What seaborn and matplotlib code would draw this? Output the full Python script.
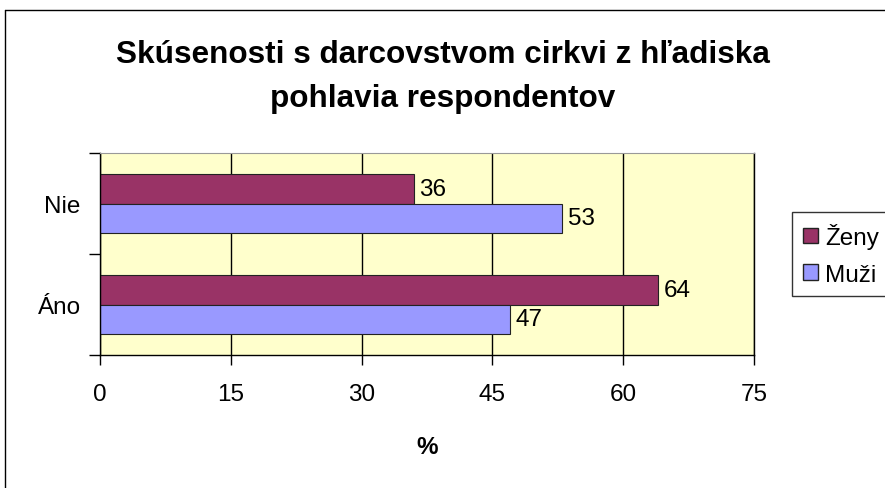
import pandas as pd
import matplotlib.pyplot as plt
import seaborn as sns
from matplotlib.lines import Line2D
from matplotlib.patches import Patch

# data
answers = ['Nie', 'Áno']
genders = ['Ženy', 'Muži']
zeny = [36, 64]
muzi = [53, 47]
x_ticks = [0, 15, 30, 45, 60, 75]

COLORS = {'Ženy': '#993366', 'Muži': '#9999FF'}

df = pd.DataFrame({
    'odpoved': answers * 2,
    'pohlavie': ['Ženy'] * len(answers) + ['Muži'] * len(answers),
    'hodnota': zeny + muzi,
})

sns.set_style('white')
plt.rcParams['font.family'] = ['Liberation Sans', 'DejaVu Sans']
plt.rcParams['text.color'] = 'black'
plt.rcParams['xtick.color'] = 'black'
plt.rcParams['ytick.color'] = 'black'
plt.rcParams['axes.labelcolor'] = 'black'

fig = plt.figure(figsize=(8.85, 4.89), dpi=100)
ax = fig.add_axes([100 / 885, 1 - 356 / 489, 654 / 885, 202 / 489])

sns.barplot(data=df, x='hodnota', y='odpoved', hue='pohlavie',
            order=answers, hue_order=genders, palette=COLORS, saturation=1,
            orient='h', width=0.58, edgecolor='#222222', linewidth=0.8,
            legend=False, ax=ax)

for cont in ax.containers:
    ax.bar_label(cont, padding=4, fontsize=17.5)

ax.set_facecolor('#FFFFCC')
ax.set_xlim(0, 75)
ax.set_xticks(x_ticks)
ax.set_ylim(1.5, -0.5)
ax.set_yticks([-0.5, 0.5, 1.5])
ax.set_yticklabels([])
ax.set_yticks([0, 1], minor=True)
ax.set_yticklabels(answers, minor=True, fontsize=17.5)
ax.tick_params(axis='y', which='major', length=8, width=1, color='black', direction='out', left=True)
ax.tick_params(axis='y', which='minor', length=0, pad=14, left=True)
ax.tick_params(axis='x', length=7, width=1, color='black', direction='out', bottom=True, labelsize=17.5, pad=13)
ax.grid(axis='x', color='black', linewidth=1)
ax.set_axisbelow(True)

for side in ['left', 'bottom', 'right']:
    ax.spines[side].set_color('black')
    ax.spines[side].set_linewidth(1)
ax.spines['top'].set_color('#999999')

ax.set_xlabel('%', fontsize=17.5, fontweight='bold', labelpad=22)
ax.set_ylabel('')

fig.suptitle('Skúsenosti s darcovstvom cirkvi z hľadiska\npohlavia respondentov',
             fontsize=22.7, fontweight='bold', y=1 - 40 / 489, va='top', linespacing=1.62)

handles = [Patch(facecolor=COLORS[g], edgecolor='#222222', label=g) for g in genders]
leg = fig.legend(handles=handles, loc='upper left', bbox_to_anchor=(792 / 885, 1 - 213 / 489),
                 frameon=True, fancybox=False, fontsize=17.5, handlelength=0.6, handleheight=0.6,
                 handletextpad=0.3, borderpad=0.45, labelspacing=0.6, borderaxespad=0)
leg.get_frame().set_edgecolor('black')
leg.get_frame().set_linewidth(1)

# outer chart frame
fig.add_artist(Line2D([5 / 885, 1], [1 - 11 / 489, 1 - 11 / 489], color='black', linewidth=1))
fig.add_artist(Line2D([5 / 885, 5 / 885], [0, 1 - 11 / 489], color='black', linewidth=1))

fig.savefig('out.png', dpi=100)
